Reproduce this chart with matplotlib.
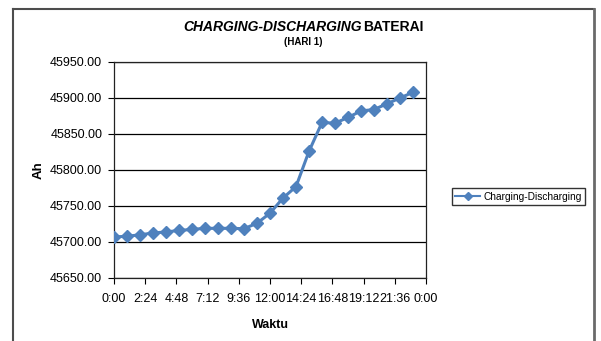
import matplotlib
matplotlib.use("Agg")
import matplotlib.pyplot as plt
from matplotlib.lines import Line2D

plt.rcParams['font.family'] = ['Liberation Sans', 'DejaVu Sans']

# Hourly readings over one day
hours = [0, 1, 2, 3, 4, 5, 6, 7, 8, 9, 10, 11,
         12, 13, 14, 15, 16, 17, 18, 19, 20, 21, 22, 23]
ah_values = [45707, 45708, 45710, 45712.5, 45714, 45716, 45717.5, 45719,
             45719, 45719, 45718.5, 45726, 45740, 45761, 45777, 45826,
             45866, 45865, 45873, 45882, 45884, 45892, 45900, 45908]

x_ticks = [0, 2.4, 4.8, 7.2, 9.6, 12, 14.4, 16.8, 19.2, 21.6, 24]
x_tick_labels = ['0:00', '2:24', '4:48', '7:12', '9:36', '12:00',
                 '14:24', '16:48', '19:12', '21:36', '0:00']
y_ticks = [45650, 45700, 45750, 45800, 45850, 45900, 45950]

series_name = 'Charging-Discharging'
W, H = 601, 341
fig = plt.figure(figsize=(W / 100, H / 100), dpi=100)
fig.patch.set_facecolor('white')

ax = fig.add_axes([114 / W, (H - 278) / H, 312 / W, 216 / H])
line_color = '#4F81BD'
ax.plot(hours, ah_values, color=line_color, lw=2.2, marker='D',
        markersize=6, markerfacecolor=line_color, markeredgecolor=line_color,
        label=series_name, zorder=3)

ax.set_xlim(0, 24)
ax.set_ylim(45650, 45950)
ax.set_xticks(x_ticks)
ax.set_xticklabels(x_tick_labels)
ax.set_yticks(y_ticks)
ax.set_yticklabels([f'{v:.2f}' for v in y_ticks])
ax.tick_params(axis='both', labelsize=9, colors='black', length=4, width=0.8,
               direction='out')
ax.tick_params(axis='x', pad=7)
ax.tick_params(axis='y', pad=4.5)
ax.grid(axis='y', color='black', lw=0.9)
ax.set_axisbelow(True)
for sp in ax.spines.values():
    sp.set_color('#222222')
    sp.set_linewidth(0.9)

ax.set_ylabel('Ah', fontsize=9.5, fontweight='bold', labelpad=3.5)
ax.set_xlabel('Waktu', fontsize=9, fontweight='bold', labelpad=10)

# Title: italic-bold first part, bold second part
fig.text(362 / W, 1 - 27 / H, 'CHARGING-DISCHARGING', fontsize=10,
         fontweight='bold', fontstyle='italic', ha='right', va='center')
fig.text(363 / W, 1 - 27 / H, 'BATERAI', fontsize=10, fontweight='bold',
         ha='left', va='center')
fig.text(303 / W, 1 - 42 / H, '(HARI 1)', fontsize=7, fontweight='bold',
         ha='center', va='center')

leg = ax.legend(loc='center', bbox_to_anchor=(518.5 / W, (H - 196.5) / H),
                bbox_transform=fig.transFigure, fontsize=7.3, frameon=True,
                fancybox=False, borderpad=0.35, handlelength=2.5,
                handletextpad=0.3, borderaxespad=0)
leg.get_frame().set_edgecolor('black')
leg.get_frame().set_linewidth(1.0)
for h in leg.legend_handles:
    h.set_markersize(4)
    h.set_linewidth(1.5)

# Chart area outline
border_color = '#4d4d4d'
fig.add_artist(Line2D([13 / W, 13 / W], [0, 1 - 9 / H], transform=fig.transFigure,
                      color=border_color, lw=1.5))
fig.add_artist(Line2D([13 / W, 593.5 / W], [1 - 9 / H, 1 - 9 / H],
                      transform=fig.transFigure, color=border_color, lw=1.5))
fig.add_artist(Line2D([593.5 / W, 593.5 / W], [0, 1 - 9 / H],
                      transform=fig.transFigure, color='#6a6a6a', lw=2.0))

fig.savefig('out.png', dpi=100, facecolor='white')
